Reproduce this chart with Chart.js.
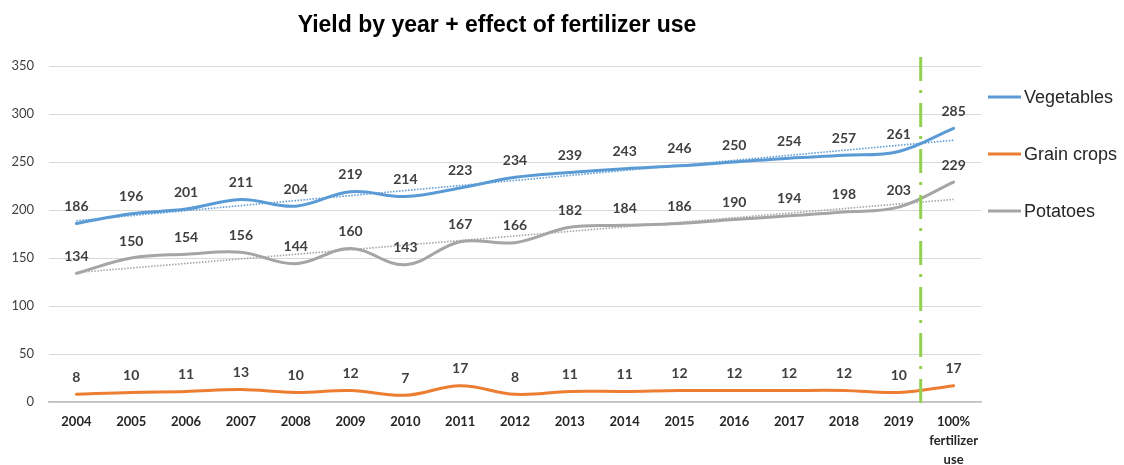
<!DOCTYPE html>
<html>
<head>
<meta charset="utf-8">
<script src="https://cdn.jsdelivr.net/npm/chart.js@4.4.1/dist/chart.umd.min.js"></script>
<style>
  html, body { margin: 0; padding: 0; background: #ffffff; }
  #wrap { width: 1124px; height: 465px; }
</style>
</head>
<body>
<div id="wrap"><canvas id="c" width="1124" height="465"></canvas></div>
<script>
// Yield per year, with the final column showing 100% fertilizer use
const categories = ['2004', '2005', '2006', '2007', '2008', '2009', '2010', '2011', '2012',
  '2013', '2014', '2015', '2016', '2017', '2018', '2019', ['100%', 'fertilizer', 'use']];
const vegetables = [186, 196, 201, 211, 204, 219, 214, 223, 234, 239, 243, 246, 250, 254, 257, 261, 285];
const grainCrops = [8, 10, 11, 13, 10, 12, 7, 17, 8, 11, 11, 12, 12, 12, 12, 10, 17];
const potatoes = [134, 150, 154, 156, 144, 160, 143, 167, 166, 182, 184, 186, 190, 194, 198, 203, 229];
const yTicks = [0, 50, 100, 150, 200, 250, 300, 350];
const seriesNames = ['Vegetables', 'Grain crops', 'Potatoes'];
const chartTitle = 'Yield by year + effect of fertilizer use';

// Divider between the yearly data and the fertilizer scenario (category-axis units)
const dividerAt = 15.4;

const COLORS = { veg: '#5B9BD5', grain: '#ED7D31', pot: '#A5A5A5', divider: '#92D050' };

// Least-squares linear trend over a series
function linearTrend(values) {
  const n = values.length;
  let sx = 0, sy = 0, sxx = 0, sxy = 0;
  values.forEach((y, x) => { sx += x; sy += y; sxx += x * x; sxy += x * y; });
  const slope = (n * sxy - sx * sy) / (n * sxx - sx * sx);
  const icpt = (sy - slope * sx) / n;
  return values.map((_, x) => icpt + slope * x);
}

const lineBase = { borderWidth: 3, pointRadius: 0, tension: 0.38, fill: false, borderCapStyle: 'round', order: 1 };
const trendBase = { borderWidth: 1.6, pointRadius: 0, tension: 0, fill: false, borderDash: [1.5, 1.5], order: 0, isTrend: true };

const titlePlugin = {
  id: 'titleText',
  afterDraw(chart) {
    const ctx = chart.ctx;
    ctx.save();
    ctx.font = 'bold 23px "Liberation Sans", Arial, sans-serif';
    ctx.fillStyle = '#000000';
    ctx.textAlign = 'center';
    ctx.textBaseline = 'middle';
    ctx.fillText(chartTitle, 497, 26);
    ctx.restore();
  }
};

const dividerPlugin = {
  id: 'divider',
  afterDatasetsDraw(chart) {
    const x = chart.scales.x.getPixelForValue(dividerAt);
    const ctx = chart.ctx;
    ctx.save();
    ctx.strokeStyle = COLORS.divider;
    ctx.lineWidth = 3;
    ctx.setLineDash([24, 9, 3, 10]);
    ctx.beginPath();
    ctx.moveTo(x, chart.chartArea.top - 9);
    ctx.lineTo(x, chart.chartArea.bottom + 8);
    ctx.stroke();
    ctx.restore();
  }
};

const valueLabelPlugin = {
  id: 'valueLabels',
  afterDatasetsDraw(chart) {
    const ctx = chart.ctx;
    ctx.save();
    ctx.font = 'bold 14px Lato, "Liberation Sans", sans-serif';
    ctx.fillStyle = '#404040';
    ctx.textAlign = 'center';
    ctx.textBaseline = 'middle';
    chart.data.datasets.forEach((ds, i) => {
      if (ds.isTrend) return;
      const meta = chart.getDatasetMeta(i);
      meta.data.forEach((pt, j) => {
        ctx.fillText(String(ds.data[j]), pt.x, pt.y - 17);
      });
    });
    ctx.restore();
  }
};

const legendPlugin = {
  id: 'sideLegend',
  afterDraw(chart) {
    const ctx = chart.ctx;
    const cols = [COLORS.veg, COLORS.grain, COLORS.pot];
    const ys = [97, 154, 211];
    ctx.save();
    ctx.font = '18px "Liberation Sans", Arial, sans-serif';
    ctx.textBaseline = 'middle';
    ctx.textAlign = 'left';
    seriesNames.forEach((name, i) => {
      ctx.strokeStyle = cols[i];
      ctx.lineWidth = 3;
      ctx.beginPath();
      ctx.moveTo(988, ys[i]);
      ctx.lineTo(1021, ys[i]);
      ctx.stroke();
      ctx.fillStyle = '#262626';
      ctx.fillText(name, 1024, ys[i] + 1);
    });
    ctx.restore();
  }
};

new Chart(document.getElementById('c'), {
  type: 'line',
  data: {
    labels: categories,
    datasets: [
      Object.assign({ label: seriesNames[0], data: vegetables, borderColor: COLORS.veg }, lineBase),
      Object.assign({ label: seriesNames[1], data: grainCrops, borderColor: COLORS.grain }, lineBase),
      Object.assign({ label: seriesNames[2], data: potatoes, borderColor: COLORS.pot }, lineBase),
      Object.assign({ label: 'Vegetables trend', data: linearTrend(vegetables), borderColor: COLORS.veg }, trendBase),
      Object.assign({ label: 'Potatoes trend', data: linearTrend(potatoes), borderColor: COLORS.pot }, trendBase)
    ]
  },
  options: {
    responsive: false,
    animation: false,
    devicePixelRatio: 1,
    layout: { padding: { top: 66, right: 143, bottom: 0, left: 0 } },
    plugins: {
      legend: { display: false },
      title: { display: false },
      tooltip: { enabled: false }
    },
    scales: {
      x: {
        type: 'category',
        offset: true,
        grid: { display: false, drawTicks: false },
        border: { display: true, color: '#bfbfbf', width: 1.5 },
        ticks: {
          autoSkip: false,
          maxRotation: 0,
          padding: 10,
          color: '#262626',
          font: { family: 'Lato, "Liberation Sans", sans-serif', size: 13, weight: 'bold', lineHeight: '19px' }
        },
        afterFit(scale) { scale.height = 63; }
      },
      y: {
        min: 0,
        max: 350,
        afterBuildTicks(scale) { scale.ticks = yTicks.map(v => ({ value: v })); },
        grid: { color: '#d9d9d9', lineWidth: 1, drawTicks: false },
        border: { display: false },
        ticks: {
          padding: 15,
          color: '#404040',
          font: { family: 'Lato, "Liberation Sans", sans-serif', size: 13 }
        },
        afterFit(scale) { scale.width = 49; }
      }
    }
  },
  plugins: [titlePlugin, dividerPlugin, valueLabelPlugin, legendPlugin]
});
</script>
</body>
</html>
